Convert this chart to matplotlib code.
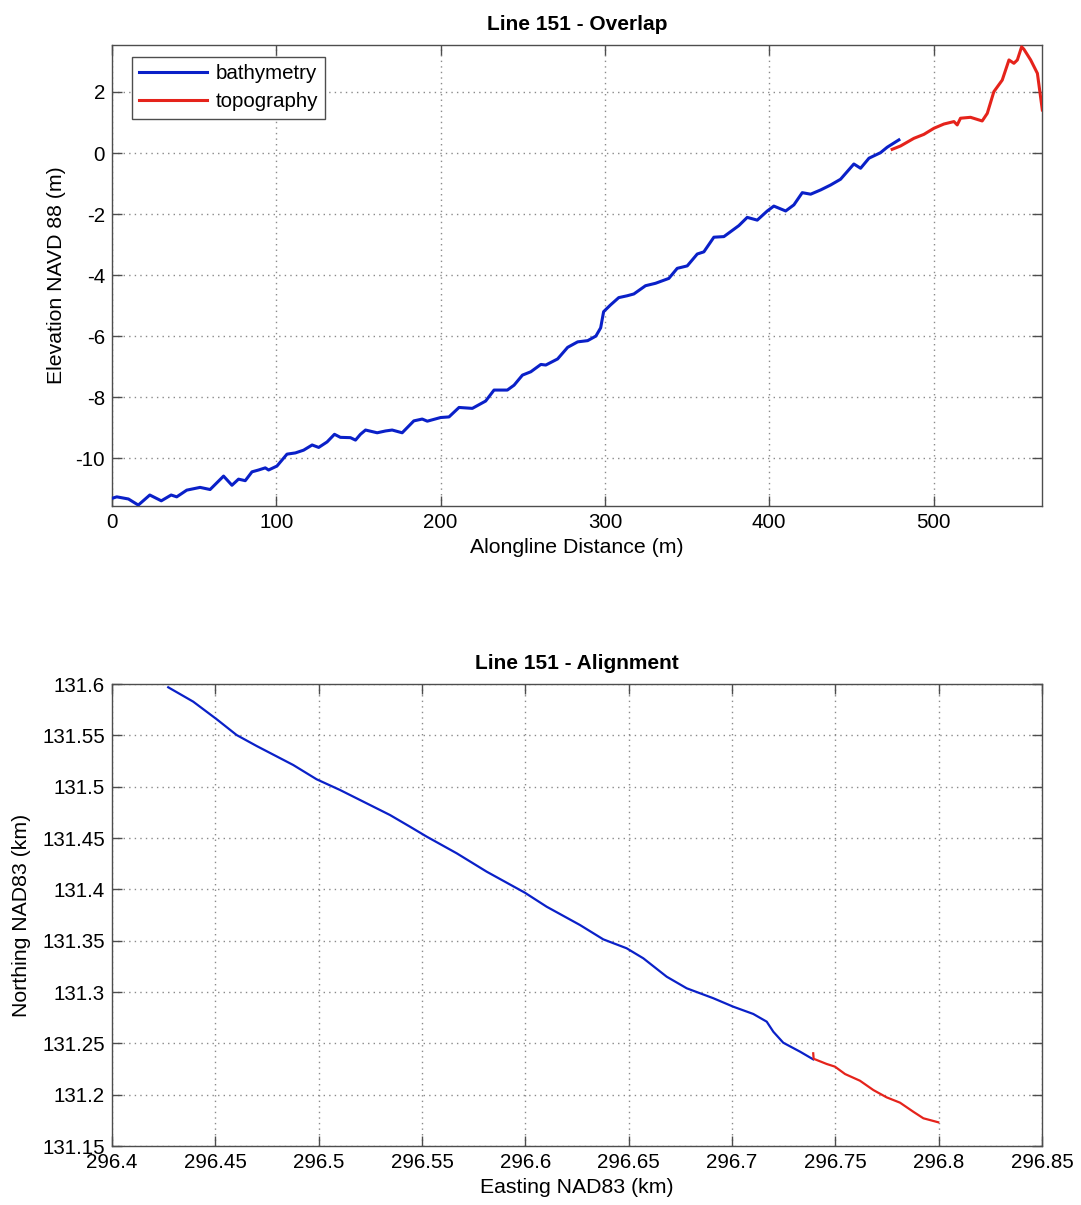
import matplotlib
matplotlib.use("Agg")
import matplotlib.pyplot as plt
from matplotlib.ticker import FormatStrFormatter, MultipleLocator

plt.rcParams['font.family'] = ['Liberation Sans', 'DejaVu Sans']
plt.rcParams['axes.unicode_minus'] = False

# ---- Top panel: elevation profiles ----
bathy_dist = [0, 2.9, 10, 16, 23, 30, 36, 39.4, 45.5, 53.6, 59.7, 67.9, 73, 77, 81.1, 85.2,
              89.2, 93.3, 95.3, 100.4, 106.5, 111.6, 116.6, 121.8, 125.8, 130.9, 135.4, 139,
              145.1, 148.2, 151.2, 154.3, 161.4, 166.5, 170.5, 176.6, 183.7, 188.8, 191.9,
              200, 205.1, 211.2, 219.3, 227.4, 232.5, 240.6, 244.7, 249.8, 254.9, 261, 264,
              271.2, 277.3, 283.4, 289.5, 294.5, 297.4, 299.2, 303.4, 308.4, 313.5, 317.6,
              324.7, 330.8, 338.9, 344, 350.1, 356.2, 360.2, 366.3, 372.4, 381.5, 386.6,
              392.7, 398.8, 402.8, 410, 415, 420.1, 425.2, 431.3, 437.3, 443.4, 451.5,
              455.6, 460.7, 467.7, 471.8, 478.9]
bathy_elev = [-11.32, -11.27, -11.34, -11.54, -11.21, -11.4, -11.21, -11.27, -11.05, -10.96,
              -11.03, -10.59, -10.89, -10.69, -10.74, -10.45, -10.39, -10.32, -10.39, -10.26,
              -9.87, -9.83, -9.74, -9.57, -9.65, -9.47, -9.22, -9.32, -9.33, -9.41, -9.22,
              -9.08, -9.17, -9.11, -9.08, -9.17, -8.78, -8.72, -8.79, -8.67, -8.65, -8.34,
              -8.37, -8.13, -7.77, -7.77, -7.61, -7.28, -7.17, -6.93, -6.95, -6.75, -6.37,
              -6.19, -6.15, -6.0, -5.73, -5.2, -4.98, -4.74, -4.68, -4.62, -4.35, -4.27,
              -4.11, -3.78, -3.7, -3.31, -3.24, -2.76, -2.74, -2.38, -2.11, -2.2, -1.9,
              -1.74, -1.9, -1.7, -1.3, -1.35, -1.21, -1.05, -0.86, -0.36, -0.5, -0.17,
              0.01, 0.19, 0.43]

topo_dist = [474.8, 479.9, 488, 494.1, 500.2, 506.3, 512.4, 514.4, 516.4, 522.5, 529.6,
             532.7, 536.7, 541.8, 545.9, 548.9, 551, 553.6, 555, 559.1, 563.2, 566.2]
topo_elev = [0.12, 0.23, 0.48, 0.61, 0.81, 0.95, 1.03, 0.92, 1.14, 1.17, 1.05, 1.3, 2.01,
             2.39, 3.05, 2.94, 3.05, 3.48, 3.4, 3.05, 2.61, 1.41]

# ---- Bottom panel: plan-view alignment ----
bathy_east = [296.4272, 296.4393, 296.4507, 296.4603, 296.47, 296.4877, 296.499, 296.5103,
              296.5232, 296.5345, 296.5442, 296.5523, 296.5668, 296.5813, 296.5998,
              296.6103, 296.6264, 296.6377, 296.649, 296.6571, 296.6684, 296.6781, 296.691,
              296.7006, 296.7103, 296.7168, 296.72, 296.7248, 296.7329, 296.7393]
bathy_north = [131.5968, 131.5828, 131.5656, 131.5503, 131.5396, 131.5211, 131.5072,
               131.4968, 131.4838, 131.4724, 131.461, 131.4513, 131.4351, 131.4172,
               131.3967, 131.3831, 131.3653, 131.3513, 131.3426, 131.3328, 131.3149,
               131.3036, 131.2939, 131.2857, 131.2786, 131.2711, 131.2613, 131.2506,
               131.2419, 131.2344]

topo_east = [296.7393, 296.7395, 296.7402, 296.7458, 296.7498, 296.7547, 296.7619,
             296.7684, 296.7748, 296.7813, 296.7877, 296.7926, 296.7998]
topo_north = [131.2403, 131.2350, 131.2344, 131.2299, 131.2273, 131.2201, 131.2136,
              131.2045, 131.1974, 131.1922, 131.1834, 131.1770, 131.1731]

BLUE = '#0a20c8'
RED = '#e5231b'
SPINE = '#4d4d4d'
W, H = 1081, 1205
TICK_FS = 14.8
LABEL_FS = 15.3
TITLE_FS = 15.0

fig = plt.figure(figsize=(W / 100, H / 100), dpi=100)
fig.patch.set_facecolor('white')


def style(ax):
    for s in ax.spines.values():
        s.set_color(SPINE)
        s.set_linewidth(1.0)
    ax.tick_params(direction='in', length=7, width=1.0, color=SPINE,
                   top=True, right=True, labelsize=TICK_FS, labelcolor='black', pad=5)
    ax.grid(True, linestyle=(0, (1, 3)), color='#8a8a8a', linewidth=1.0)
    ax.set_axisbelow(True)


ax1 = fig.add_axes([112 / W, 1 - 506 / H, 930 / W, 461 / H])
ax1.plot(bathy_dist, bathy_elev, color=BLUE, lw=2.2, label='bathymetry', zorder=3)
ax1.plot(topo_dist, topo_elev, color=RED, lw=2.2, label='topography', zorder=3)
ax1.set_xlim(0, 566)
ax1.set_ylim(-11.57, 3.54)
ax1.xaxis.set_major_locator(MultipleLocator(100))
ax1.yaxis.set_major_locator(MultipleLocator(2))
style(ax1)
ax1.set_title('Line 151 - Overlap', fontsize=TITLE_FS, fontweight='bold', pad=11)
ax1.set_xlabel('Alongline Distance (m)', fontsize=LABEL_FS)
ax1.set_ylabel('Elevation NAVD 88 (m)', fontsize=LABEL_FS)
ax1.xaxis.set_label_coords(0.5, -(538 - 506) / 461)
ax1.yaxis.set_label_coords((66 - 112) / 930, 0.5)
leg = ax1.legend(loc='upper left', bbox_to_anchor=(20 / 930, 1 - 12 / 461),
                 fontsize=TICK_FS, frameon=True, fancybox=False, handlelength=3.3,
                 handletextpad=0.4, borderpad=0.35, labelspacing=0.45, borderaxespad=0,
                 framealpha=1)
leg.get_frame().set_edgecolor(SPINE)
leg.get_frame().set_linewidth(1.0)

ax2 = fig.add_axes([112 / W, 1 - 1146 / H, 930 / W, 462 / H])
ax2.plot(bathy_east, bathy_north, color=BLUE, lw=1.6, zorder=3)
ax2.plot(topo_east, topo_north, color=RED, lw=1.6, zorder=3)
ax2.set_xlim(296.4, 296.85)
ax2.set_ylim(131.15, 131.6)
ax2.xaxis.set_major_locator(MultipleLocator(0.05))
ax2.yaxis.set_major_locator(MultipleLocator(0.05))
ax2.xaxis.set_major_formatter(FormatStrFormatter('%g'))
ax2.yaxis.set_major_formatter(FormatStrFormatter('%g'))
style(ax2)
ax2.set_title('Line 151 - Alignment', fontsize=TITLE_FS, fontweight='bold', pad=11)
ax2.set_xlabel('Easting NAD83 (km)', fontsize=LABEL_FS)
ax2.set_ylabel('Northing NAD83 (km)', fontsize=LABEL_FS)
ax2.xaxis.set_label_coords(0.5, -(1178 - 1146) / 462)
ax2.yaxis.set_label_coords((31 - 112) / 930, 0.5)

fig.savefig('out.png', dpi=100, facecolor='white')
